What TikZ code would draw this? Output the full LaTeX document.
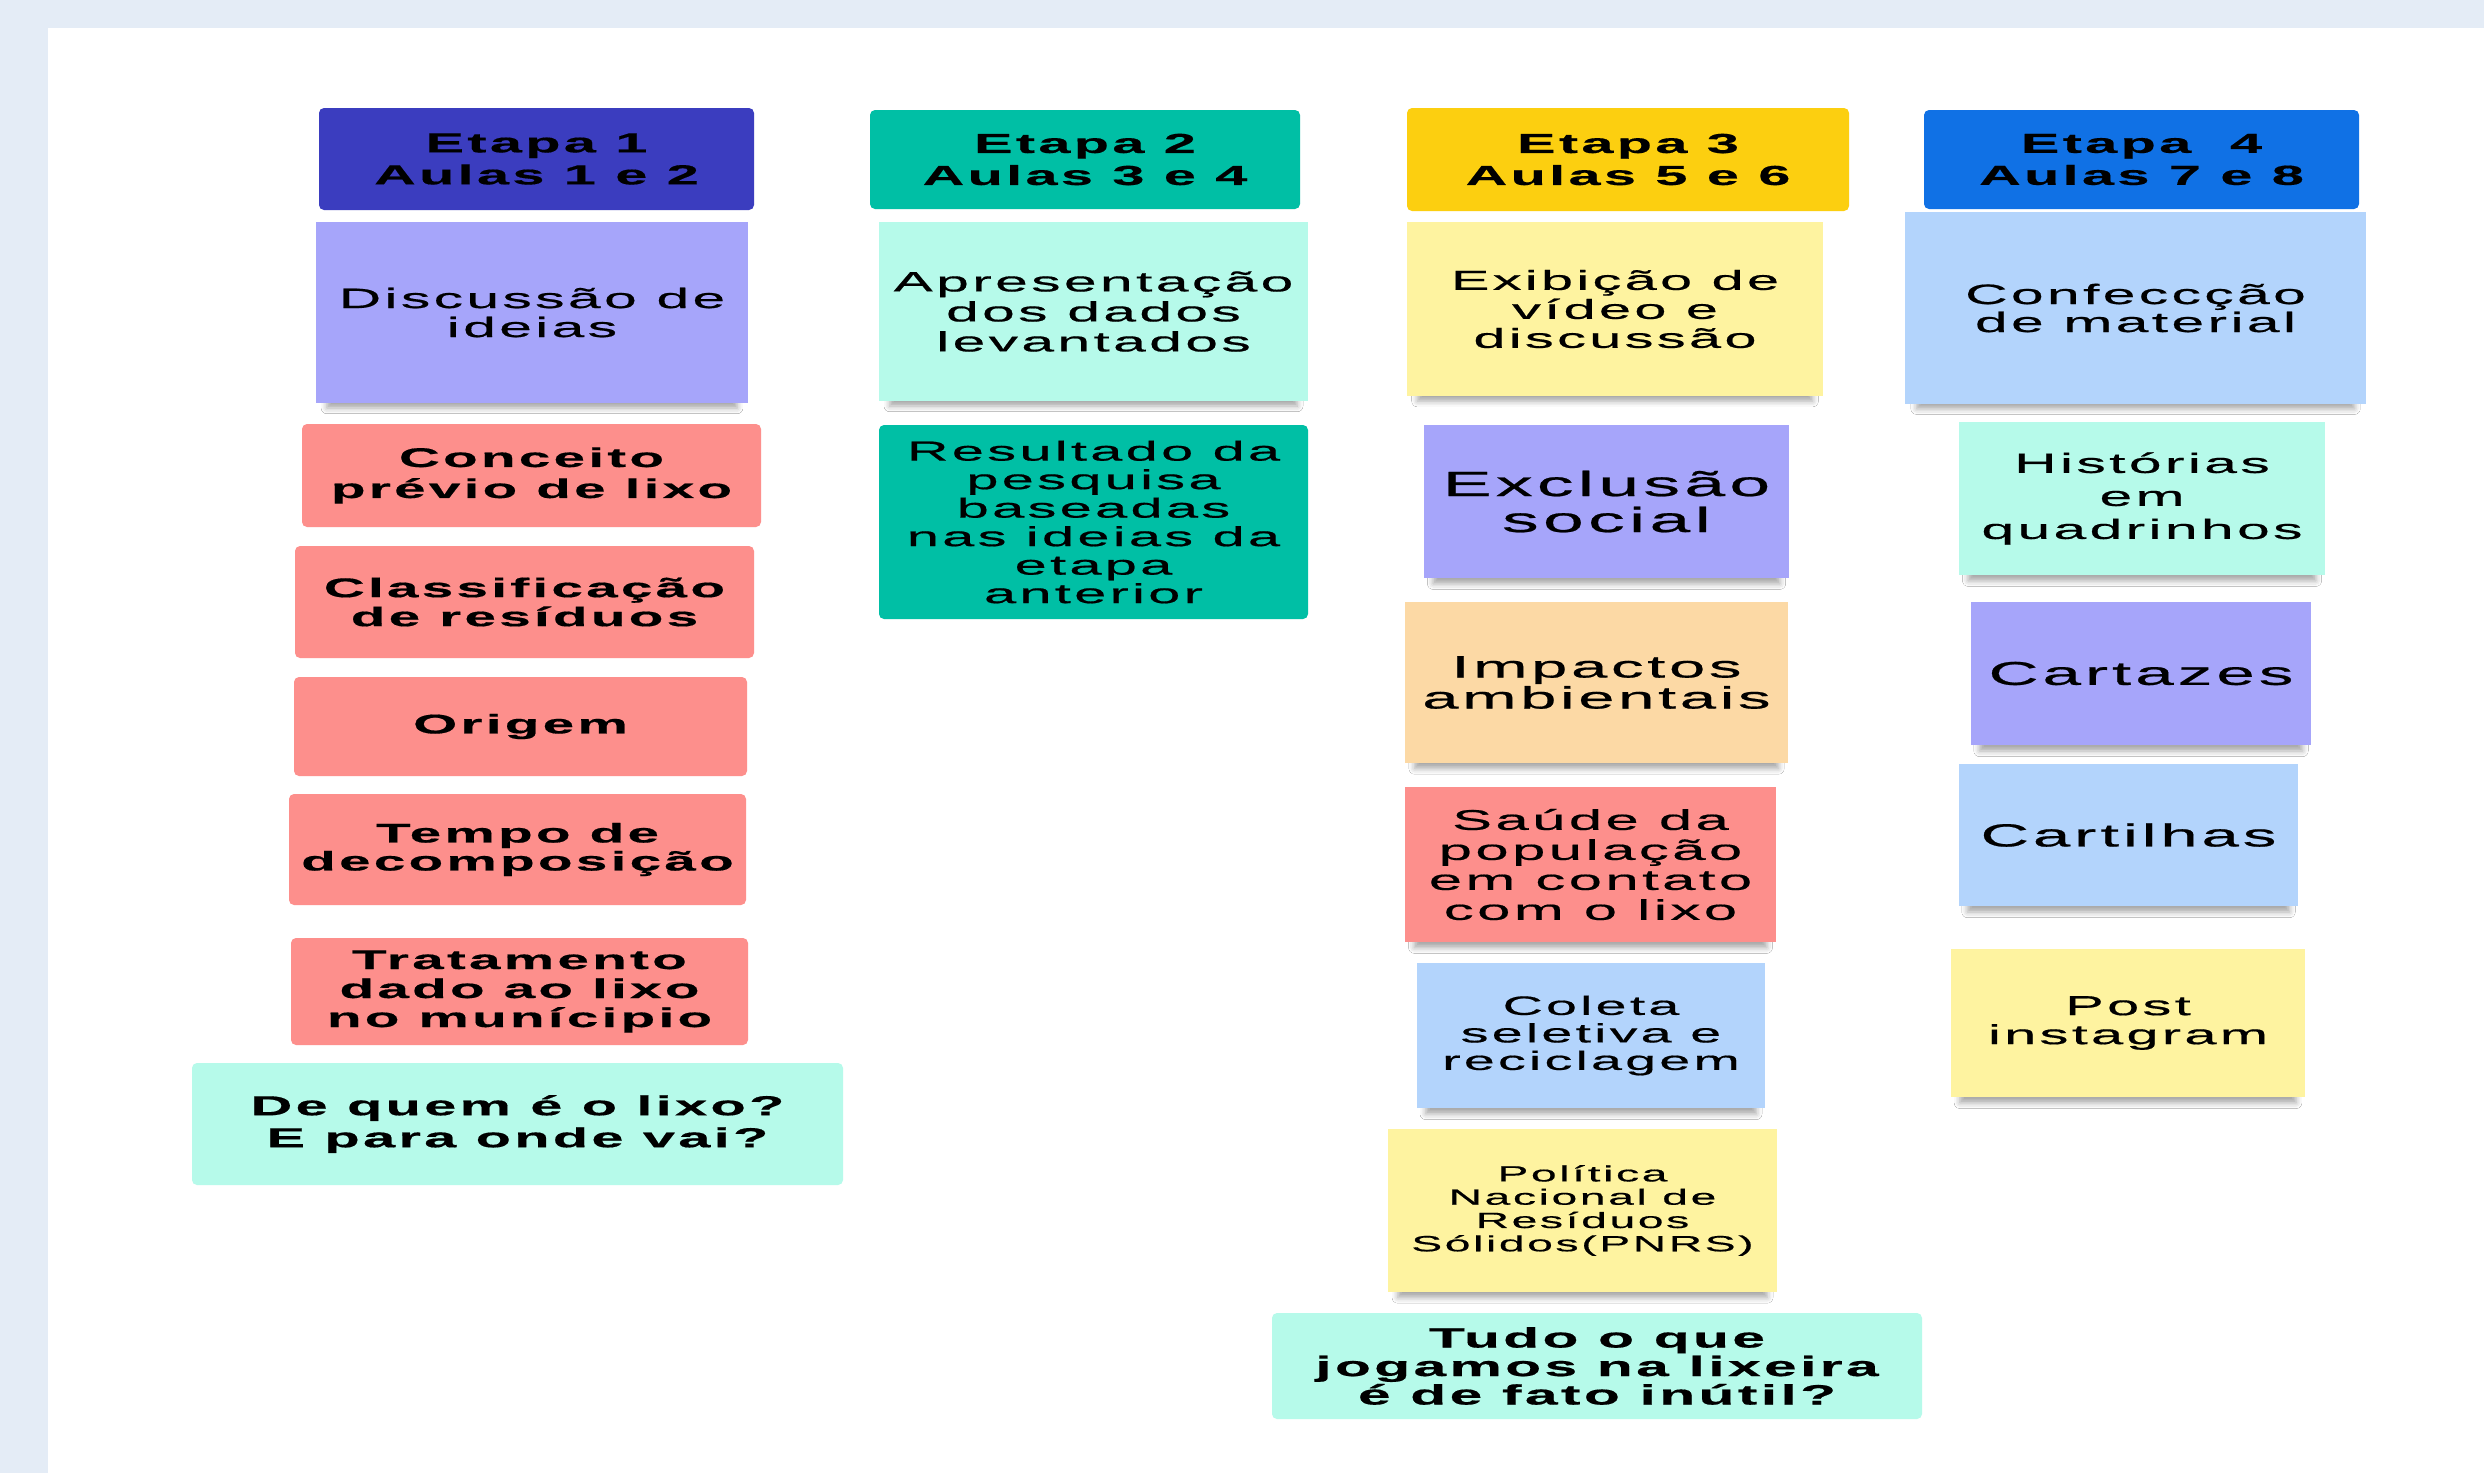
\documentclass[tikz,border=0pt]{standalone}
\usepackage{fontspec}
\setmainfont{Liberation Sans}[FakeStretch=2.1,LetterSpace=12,UprightFeatures={FakeBold=0.6},BoldFeatures={FakeBold=0.5}]
\usetikzlibrary{shadows.blur}

\definecolor{fundo}{RGB}{228,236,246}
\definecolor{roxoEsc}{RGB}{59,61,191}
\definecolor{verdeAg}{RGB}{0,191,165}
\definecolor{amarEsc}{RGB}{252,207,16}
\definecolor{azulEsc}{RGB}{16,113,229}
\definecolor{lilas}{RGB}{166,165,250}
\definecolor{menta}{RGB}{182,250,234}
\definecolor{salmao}{RGB}{253,143,140}
\definecolor{azulCl}{RGB}{179,212,252}
\definecolor{amarCl}{RGB}{254,243,160}
\definecolor{laranja}{RGB}{252,217,165}

\newcommand{\tam}[2]{\fontsize{#1}{#2}\selectfont}

\begin{document}
\begin{tikzpicture}[x=1pt,y=1pt,yscale=-1,
    etapa/.style={rounded corners=5pt, inner sep=0pt, align=center, font=\tam{27.5}{32}\bfseries},
    cartao/.style={rounded corners=5pt, inner sep=0pt, align=center},
    nota/.style={inner sep=0pt, align=center,
        blur shadow={shadow xshift=0pt, shadow yshift=-10pt, shadow scale=0.95, shadow blur radius=6pt, shadow opacity=35}},
    ]
        \useasboundingbox (0,0) rectangle (2484,1473);

        % fundo do quadro
        \fill [fundo] (0,0) rectangle (2484,1473);
        \fill [white] (48,28) rectangle (2484,1473);

        % Etapas
        \node [etapa, fill=roxoEsc, minimum width=435pt, minimum height=102pt] (etapa1) at (536.5,159) {Etapa 1\\Aulas 1 e 2};
        \node [etapa, fill=verdeAg, minimum width=430pt, minimum height=99pt] (etapa2) at (1085,159.5) {Etapa 2\\Aulas 3 e 4};
        \node [etapa, fill=amarEsc, minimum width=442pt, minimum height=103pt] (etapa3) at (1628,159.5) {Etapa 3\\Aulas 5 e 6};
        \node [etapa, fill=azulEsc, minimum width=435pt, minimum height=99pt] (etapa4) at (2141.5,159.5) {Etapa\ \ 4\\Aulas 7 e 8};

        % Coluna 1
        \node [nota, fill=lilas, minimum width=432pt, minimum height=181pt, font=\tam{28}{29}] (discussao) at (532,312.5) {Discussão de\\ideias};
        \node [cartao, fill=salmao, minimum width=459pt, minimum height=103pt, font=\tam{27}{31}\bfseries] (conceito) at (531.5,475.5) {Conceito\\prévio de lixo};
        \node [cartao, fill=salmao, minimum width=459pt, minimum height=112pt, font=\tam{27}{29}\bfseries] (classificacao) at (524.5,602) {Classificação\\de resíduos};
        \node [cartao, fill=salmao, minimum width=453pt, minimum height=99pt, font=\tam{27}{29}\bfseries] (origem) at (520.5,726.5) {Origem};
        \node [cartao, fill=salmao, minimum width=457pt, minimum height=111pt, font=\tam{27}{28}\bfseries] (tempo) at (517.5,849.5) {Tempo de\\decomposição};
        \node [cartao, fill=salmao, minimum width=457pt, minimum height=107pt, font=\tam{27}{29}\bfseries] (tratamento) at (519.5,991.5) {Tratamento\\dado ao lixo\\no munícipio};
        \node [cartao, fill=menta, minimum width=651pt, minimum height=122pt, font=\tam{27.5}{32}\bfseries] (dequem) at (517.5,1124) {De quem é o lixo?\\E para onde vai?};

        % Coluna 2
        \node [nota, fill=menta, minimum width=429pt, minimum height=179pt, font=\tam{28}{30}] (apresentacao) at (1093.5,311.5) {Apresentação\\dos dados\\levantados};
        \node [cartao, fill=verdeAg, minimum width=429pt, minimum height=194pt, font=\tam{27.5}{28.5}] (resultado) at (1093.5,522) {Resultado da\\pesquisa\\baseadas\\nas ideias da\\etapa\\anterior};

        % Coluna 3
        \node [nota, fill=amarCl, minimum width=416pt, minimum height=174pt, font=\tam{27.5}{29}] (exibicao) at (1615,309) {Exibição de\\vídeo e\\discussão};
        \node [nota, fill=lilas, minimum width=365pt, minimum height=153pt, font=\tam{35}{36}] (exclusao) at (1606.5,501.5) {Exclusão\\social};
        \node [nota, fill=laranja, minimum width=383pt, minimum height=161pt, font=\tam{31}{31}] (impactos) at (1596.5,682.5) {Impactos\\ambientais};
        \node [nota, fill=salmao, minimum width=371pt, minimum height=155pt, font=\tam{28.5}{30}] (saude) at (1590.5,864.5) {Saúde da\\população\\em contato\\com o lixo};
        \node [nota, fill=azulCl, minimum width=348pt, minimum height=145pt, font=\tam{26.5}{27.5}] (coleta) at (1591,1035.5) {Coleta\\seletiva e\\reciclagem};
        \node [nota, fill=amarCl, minimum width=389pt, minimum height=163pt, font=\tam{22}{23.3}] (politica) at (1582.5,1210.5) {Política\\Nacional de\\Resíduos\\Sólidos(PNRS)};
        \node [cartao, fill=menta, minimum width=650pt, minimum height=106pt, font=\tam{28}{28.5}\bfseries] (tudo) at (1597,1366) {Tudo o que\\jogamos na lixeira\\é de fato inútil?};

        % Coluna 4
        \node [nota, fill=azulCl, minimum width=461pt, minimum height=192pt, font=\tam{28}{28}] (confeccao) at (2135.5,308) {Confeccção\\de material};
        \node [nota, fill=menta, minimum width=366pt, minimum height=153pt, font=\tam{28}{33}] (historias) at (2142,498.5) {Histórias\\em\\quadrinhos};
        \node [nota, fill=lilas, minimum width=340pt, minimum height=143pt, font=\tam{33}{33}] (cartazes) at (2141,673.5) {Cartazes};
        \node [nota, fill=azulCl, minimum width=339pt, minimum height=142pt, font=\tam{32}{32}] (cartilhas) at (2128.5,835) {Cartilhas};
        \node [nota, fill=amarCl, minimum width=354pt, minimum height=148pt, font=\tam{27.5}{29}] (post) at (2128,1023) {Post\\instagram};

\end{tikzpicture}
\end{document}
